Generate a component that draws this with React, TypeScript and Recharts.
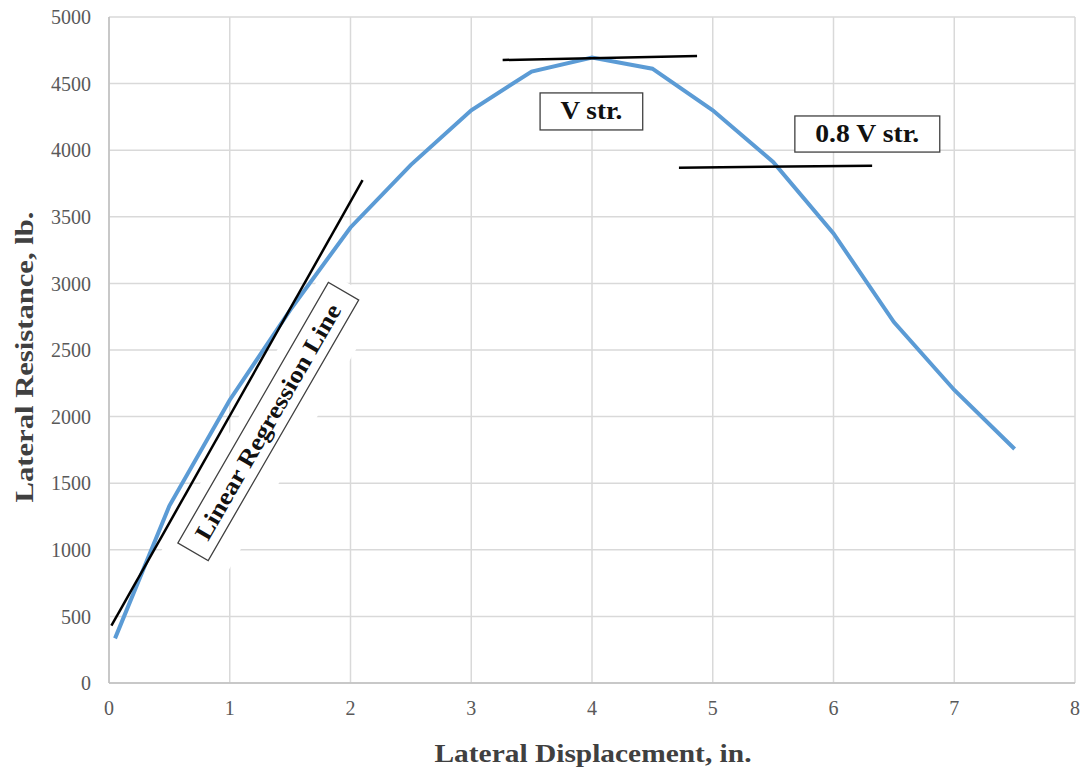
import {
  LineChart,
  Line,
  XAxis,
  YAxis,
  CartesianGrid,
  ReferenceLine,
  ReferenceArea,
  ReferenceDot,
} from 'recharts';

const displacement = [0.05, 0.5, 1, 1.5, 2, 2.5, 3, 3.5, 4, 4.5, 5, 5.5, 6, 6.5, 7, 7.5];
const resistance = [335, 1330, 2125, 2800, 3420, 3890, 4300, 4590, 4695, 4612, 4300, 3912, 3375, 2710, 2200, 1757];

const xTicks = [0, 1, 2, 3, 4, 5, 6, 7, 8];
const yTicks = [0, 500, 1000, 1500, 2000, 2500, 3000, 3500, 4000, 4500, 5000];

const regressionLine = [
  { x: 0.02, y: 430 },
  { x: 2.1, y: 3775 },
];
const peakLine = [
  { x: 3.26, y: 4677 },
  { x: 4.87, y: 4707 },
];
const postPeakLine = [
  { x: 4.72, y: 3869 },
  { x: 6.32, y: 3884 },
];

// label boxes, in data coordinates
const peakBox = { x1: 3.57, x2: 4.42, y1: 4152, y2: 4430, text: 'V str.' };
const postPeakBox = { x1: 5.68, x2: 6.88, y1: 3986, y2: 4257, text: '0.8 V str.' };
const regressionBox = { x: 1.317, y: 1960, text: 'Linear Regression Line' };

const data = displacement.map((x, i) => ({ x, y: resistance[i] }));

const serif = '"Liberation Serif", "Times New Roman", serif';

// the scanned text is a bit wider than Liberation Serif, so stretch it
const boxShape = (text: string, len: number) => (props: any) => {
  const { x, y, width, height } = props;
  return (
    <g>
      <rect x={x} y={y} width={width} height={height} fill="#fff" stroke="#404040" strokeWidth={1.3} />
      <text
        x={x + width / 2}
        y={y + height / 2 + 7.5}
        textAnchor="middle"
        fontFamily={serif}
        fontWeight="bold"
        fontSize={25}
        fill="#111"
        textLength={len}
        lengthAdjust="spacingAndGlyphs"
      >
        {text}
      </text>
    </g>
  );
};

const rotatedBox = (props: any) => {
  const { cx, cy } = props;
  return (
    <g transform={`translate(${cx},${cy}) rotate(-60)`}>
      <rect x={-170} y={-28} width={330} height={68} fill="#fff" />
      <rect x={-150} y={-17.5} width={301} height={35} fill="#fff" stroke="#404040" strokeWidth={1.3} />
      <text
        x={0}
        y={8}
        textAnchor="middle"
        fontFamily={serif}
        fontWeight="bold"
        fontSize={24}
        fill="#111"
        textLength={268}
        lengthAdjust="spacingAndGlyphs"
      >
        {regressionBox.text}
      </text>
    </g>
  );
};

export default function App() {
  return (
    <div style={{ position: 'absolute', left: 0, top: 0, width: 1081, height: 772, background: '#fff' }}>
      <LineChart width={1081} height={772} data={data} margin={{ top: 17, right: 6, left: 0, bottom: 0 }}>
        <CartesianGrid stroke="#d9d9d9" strokeWidth={1.5} />
        <XAxis
          type="number"
          dataKey="x"
          domain={[0, 8]}
          ticks={xTicks}
          height={89}
          tickLine={false}
          tickMargin={12}
          axisLine={{ stroke: '#bfbfbf', strokeWidth: 1.5 }}
          tick={{ fill: '#595959', fontSize: 20, fontFamily: serif }}
          label={() => (
            <text
              x={593}
              y={762}
              textAnchor="middle"
              fontFamily={serif}
              fontWeight="bold"
              fontSize={25}
              fill="#404040"
              textLength={317}
              lengthAdjust="spacingAndGlyphs"
            >
              Lateral Displacement, in.
            </text>
          )}
        />
        <YAxis
          type="number"
          domain={[0, 5000]}
          ticks={yTicks}
          width={109}
          tickLine={false}
          tickMargin={12}
          axisLine={{ stroke: '#bfbfbf', strokeWidth: 1.5 }}
          tick={{ fill: '#595959', fontSize: 20, fontFamily: serif }}
          label={() => (
            <text
              x={33}
              y={357}
              transform="rotate(-90 33 357)"
              textAnchor="middle"
              fontFamily={serif}
              fontWeight="bold"
              fontSize={26}
              fill="#404040"
              textLength={291}
              lengthAdjust="spacingAndGlyphs"
            >
              Lateral Resistance, lb.
            </text>
          )}
        />
        <ReferenceArea
          x1={peakBox.x1}
          x2={peakBox.x2}
          y1={peakBox.y1}
          y2={peakBox.y2}
          shape={boxShape(peakBox.text, 62)}
        />
        <ReferenceArea
          x1={postPeakBox.x1}
          x2={postPeakBox.x2}
          y1={postPeakBox.y1}
          y2={postPeakBox.y2}
          shape={boxShape(postPeakBox.text, 104)}
        />
        <ReferenceDot x={regressionBox.x} y={regressionBox.y} shape={rotatedBox} />
        <Line
          dataKey="y"
          stroke="#5b9bd5"
          strokeWidth={4}
          dot={false}
          isAnimationActive={false}
        />
        <ReferenceLine segment={regressionLine} stroke="#000" strokeWidth={2.5} ifOverflow="visible" />
        <ReferenceLine segment={peakLine} stroke="#000" strokeWidth={2.5} ifOverflow="visible" />
        <ReferenceLine segment={postPeakLine} stroke="#000" strokeWidth={2.5} ifOverflow="visible" />
      </LineChart>
    </div>
  );
}
